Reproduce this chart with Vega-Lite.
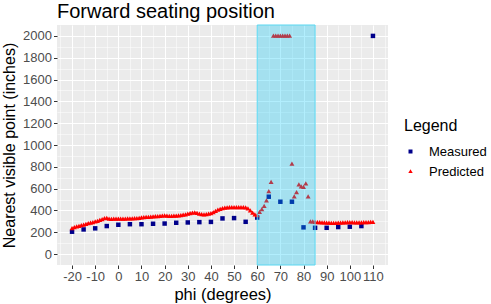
{
  "$schema": "https://vega.github.io/schema/vega-lite/v6.json",
  "width": 331,
  "height": 240,
  "autosize": "none",
  "padding": {"left": 57, "top": 25, "right": 103, "bottom": 39},
  "background": "white",
  "config": {"view": {"fill": "#EBEBEB", "stroke": null}, "font": "Liberation Sans"},
  "title": {"text": "Forward seating position", "anchor": "start", "frame": "group", "fontSize": 20, "fontWeight": "normal", "color": "black", "font": "Liberation Sans", "offset": 2.5},
  "datasets": {
    "points": [
      {"phi": -20, "value": 205, "type": "Measured"}, {"phi": -15, "value": 226, "type": "Measured"}, {"phi": -10, "value": 236, "type": "Measured"}, {"phi": -5, "value": 257, "type": "Measured"}, {"phi": 0, "value": 269, "type": "Measured"}, {"phi": 5, "value": 274, "type": "Measured"}, {"phi": 10, "value": 274, "type": "Measured"}, {"phi": 15, "value": 278, "type": "Measured"}, {"phi": 20, "value": 280, "type": "Measured"}, {"phi": 25, "value": 287, "type": "Measured"}, {"phi": 30, "value": 290, "type": "Measured"}, {"phi": 35, "value": 293, "type": "Measured"}, {"phi": 40, "value": 295, "type": "Measured"}, {"phi": 45, "value": 327, "type": "Measured"}, {"phi": 50, "value": 330, "type": "Measured"}, {"phi": 55, "value": 296, "type": "Measured"}, {"phi": 60, "value": 335, "type": "Measured"}, {"phi": 65, "value": 526, "type": "Measured"}, {"phi": 70, "value": 480, "type": "Measured"}, {"phi": 75, "value": 480, "type": "Measured"}, {"phi": 80, "value": 245, "type": "Measured"}, {"phi": 85, "value": 241, "type": "Measured"}, {"phi": 90, "value": 241, "type": "Measured"}, {"phi": 95, "value": 248, "type": "Measured"}, {"phi": 100, "value": 251, "type": "Measured"}, {"phi": 105, "value": 257, "type": "Measured"}, {"phi": 110, "value": 2000, "type": "Measured"},
      {"phi": -20, "value": 236, "type": "Predicted"}, {"phi": -19, "value": 244, "type": "Predicted"}, {"phi": -18, "value": 250, "type": "Predicted"}, {"phi": -17, "value": 256, "type": "Predicted"}, {"phi": -16, "value": 262, "type": "Predicted"}, {"phi": -15, "value": 268, "type": "Predicted"}, {"phi": -14, "value": 274, "type": "Predicted"}, {"phi": -13, "value": 280, "type": "Predicted"}, {"phi": -12, "value": 286, "type": "Predicted"}, {"phi": -11, "value": 291, "type": "Predicted"}, {"phi": -10, "value": 296, "type": "Predicted"}, {"phi": -9, "value": 302, "type": "Predicted"}, {"phi": -8, "value": 310, "type": "Predicted"}, {"phi": -7, "value": 318, "type": "Predicted"}, {"phi": -6, "value": 326, "type": "Predicted"}, {"phi": -5, "value": 328, "type": "Predicted"}, {"phi": -4, "value": 322, "type": "Predicted"}, {"phi": -3, "value": 320, "type": "Predicted"}, {"phi": -2, "value": 321, "type": "Predicted"}, {"phi": -1, "value": 322, "type": "Predicted"},
      {"phi": 0, "value": 322, "type": "Predicted"}, {"phi": 1, "value": 322, "type": "Predicted"}, {"phi": 2, "value": 323, "type": "Predicted"}, {"phi": 3, "value": 323, "type": "Predicted"}, {"phi": 4, "value": 324, "type": "Predicted"}, {"phi": 5, "value": 325, "type": "Predicted"}, {"phi": 6, "value": 325, "type": "Predicted"}, {"phi": 7, "value": 326, "type": "Predicted"}, {"phi": 8, "value": 327, "type": "Predicted"}, {"phi": 9, "value": 330, "type": "Predicted"}, {"phi": 10, "value": 333, "type": "Predicted"}, {"phi": 11, "value": 335, "type": "Predicted"}, {"phi": 12, "value": 337, "type": "Predicted"}, {"phi": 13, "value": 338, "type": "Predicted"}, {"phi": 14, "value": 340, "type": "Predicted"}, {"phi": 15, "value": 342, "type": "Predicted"}, {"phi": 16, "value": 344, "type": "Predicted"}, {"phi": 17, "value": 346, "type": "Predicted"}, {"phi": 18, "value": 348, "type": "Predicted"}, {"phi": 19, "value": 350, "type": "Predicted"},
      {"phi": 20, "value": 351, "type": "Predicted"}, {"phi": 21, "value": 350, "type": "Predicted"}, {"phi": 22, "value": 348, "type": "Predicted"}, {"phi": 23, "value": 348, "type": "Predicted"}, {"phi": 24, "value": 349, "type": "Predicted"}, {"phi": 25, "value": 350, "type": "Predicted"}, {"phi": 26, "value": 352, "type": "Predicted"}, {"phi": 27, "value": 355, "type": "Predicted"}, {"phi": 28, "value": 358, "type": "Predicted"}, {"phi": 29, "value": 362, "type": "Predicted"}, {"phi": 30, "value": 367, "type": "Predicted"}, {"phi": 31, "value": 372, "type": "Predicted"}, {"phi": 32, "value": 377, "type": "Predicted"}, {"phi": 33, "value": 379, "type": "Predicted"}, {"phi": 34, "value": 374, "type": "Predicted"}, {"phi": 35, "value": 368, "type": "Predicted"}, {"phi": 36, "value": 364, "type": "Predicted"}, {"phi": 37, "value": 362, "type": "Predicted"}, {"phi": 38, "value": 364, "type": "Predicted"}, {"phi": 39, "value": 368, "type": "Predicted"},
      {"phi": 40, "value": 373, "type": "Predicted"}, {"phi": 41, "value": 382, "type": "Predicted"}, {"phi": 42, "value": 394, "type": "Predicted"}, {"phi": 43, "value": 404, "type": "Predicted"}, {"phi": 44, "value": 412, "type": "Predicted"}, {"phi": 45, "value": 418, "type": "Predicted"}, {"phi": 46, "value": 422, "type": "Predicted"}, {"phi": 47, "value": 425, "type": "Predicted"}, {"phi": 48, "value": 427, "type": "Predicted"}, {"phi": 49, "value": 428, "type": "Predicted"}, {"phi": 50, "value": 428, "type": "Predicted"}, {"phi": 51, "value": 428, "type": "Predicted"}, {"phi": 52, "value": 427, "type": "Predicted"}, {"phi": 53, "value": 427, "type": "Predicted"}, {"phi": 54, "value": 427, "type": "Predicted"}, {"phi": 55, "value": 425, "type": "Predicted"}, {"phi": 56, "value": 415, "type": "Predicted"}, {"phi": 57, "value": 398, "type": "Predicted"}, {"phi": 58, "value": 378, "type": "Predicted"}, {"phi": 59, "value": 362, "type": "Predicted"},
      {"phi": 60, "value": 355, "type": "Predicted"}, {"phi": 61, "value": 385, "type": "Predicted"}, {"phi": 62, "value": 410, "type": "Predicted"}, {"phi": 63, "value": 440, "type": "Predicted"}, {"phi": 64, "value": 490, "type": "Predicted"}, {"phi": 65, "value": 575, "type": "Predicted"}, {"phi": 66, "value": 660, "type": "Predicted"}, {"phi": 67, "value": 2000, "type": "Predicted"}, {"phi": 68, "value": 2000, "type": "Predicted"}, {"phi": 69, "value": 2000, "type": "Predicted"}, {"phi": 70, "value": 2000, "type": "Predicted"}, {"phi": 71, "value": 2000, "type": "Predicted"}, {"phi": 72, "value": 2000, "type": "Predicted"}, {"phi": 73, "value": 2000, "type": "Predicted"}, {"phi": 74, "value": 2000, "type": "Predicted"}, {"phi": 75, "value": 826, "type": "Predicted"}, {"phi": 76, "value": 526, "type": "Predicted"}, {"phi": 77, "value": 566, "type": "Predicted"}, {"phi": 78, "value": 636, "type": "Predicted"}, {"phi": 79, "value": 618, "type": "Predicted"},
      {"phi": 80, "value": 612, "type": "Predicted"}, {"phi": 81, "value": 645, "type": "Predicted"}, {"phi": 82, "value": 526, "type": "Predicted"}, {"phi": 83, "value": 296, "type": "Predicted"}, {"phi": 84, "value": 296, "type": "Predicted"}, {"phi": 85, "value": 292, "type": "Predicted"}, {"phi": 86, "value": 290, "type": "Predicted"}, {"phi": 87, "value": 289, "type": "Predicted"}, {"phi": 88, "value": 288, "type": "Predicted"}, {"phi": 89, "value": 287, "type": "Predicted"}, {"phi": 90, "value": 286, "type": "Predicted"}, {"phi": 91, "value": 285, "type": "Predicted"}, {"phi": 92, "value": 284, "type": "Predicted"}, {"phi": 93, "value": 284, "type": "Predicted"}, {"phi": 94, "value": 284, "type": "Predicted"}, {"phi": 95, "value": 285, "type": "Predicted"}, {"phi": 96, "value": 286, "type": "Predicted"}, {"phi": 97, "value": 287, "type": "Predicted"}, {"phi": 98, "value": 288, "type": "Predicted"}, {"phi": 99, "value": 290, "type": "Predicted"},
      {"phi": 100, "value": 291, "type": "Predicted"}, {"phi": 101, "value": 290, "type": "Predicted"}, {"phi": 102, "value": 288, "type": "Predicted"}, {"phi": 103, "value": 287, "type": "Predicted"}, {"phi": 104, "value": 287, "type": "Predicted"}, {"phi": 105, "value": 288, "type": "Predicted"}, {"phi": 106, "value": 289, "type": "Predicted"}, {"phi": 107, "value": 290, "type": "Predicted"}, {"phi": 108, "value": 291, "type": "Predicted"}, {"phi": 109, "value": 292, "type": "Predicted"}, {"phi": 110, "value": 292, "type": "Predicted"}
    ],
    "band": [{"start": 60, "end": 85}]
  },
  "layer": [
    {
      "data": {"name": "points"},
      "mark": {"type": "point", "opacity": 0},
      "encoding": {
        "x": {"field": "phi", "type": "quantitative", "scale": {"domain": [-26.5, 116.5], "nice": false, "zero": false},
              "axis": {"orient": "bottom", "values": [-25, -15, -5, 5, 15, 25, 35, 45, 55, 65, 75, 85, 95, 105, 115], "grid": true, "gridColor": "white", "gridWidth": 0.5, "labels": false, "ticks": false, "domain": false, "title": null}},
        "y": {"field": "value", "type": "quantitative", "scale": {"domain": [-100, 2100], "nice": false, "zero": false},
              "axis": {"orient": "left", "values": [100, 300, 500, 700, 900, 1100, 1300, 1500, 1700, 1900], "grid": true, "gridColor": "white", "gridWidth": 0.5, "labels": false, "ticks": false, "domain": false, "title": null}}
      }
    },
    {
      "data": {"name": "points"},
      "mark": {"type": "point", "filled": true, "opacity": 1, "size": 20},
      "encoding": {
        "x": {"field": "phi", "type": "quantitative", "scale": {"domain": [-26.5, 116.5], "nice": false, "zero": false},
              "axis": {"orient": "bottom", "values": [-20, -10, 0, 10, 20, 30, 40, 50, 60, 70, 80, 90, 100, 110], "labelExpr": "'' + datum.value", "grid": true, "gridColor": "white", "gridWidth": 1.1, "domain": false, "tickColor": "#333333", "tickSize": 3.5, "tickWidth": 1, "labelFontSize": 13, "labelColor": "#4D4D4D", "labelPadding": 2, "title": "phi (degrees)", "titleFontSize": 16.5, "titleFontWeight": "normal", "titleColor": "black", "titlePadding": 3}},
        "y": {"field": "value", "type": "quantitative", "scale": {"domain": [-100, 2100], "nice": false, "zero": false},
              "axis": {"orient": "left", "values": [0, 200, 400, 600, 800, 1000, 1200, 1400, 1600, 1800, 2000], "labelExpr": "'' + datum.value", "grid": true, "gridColor": "white", "gridWidth": 1.1, "domain": false, "tickColor": "#333333", "tickSize": 3.5, "tickWidth": 1, "labelFontSize": 13, "labelColor": "#4D4D4D", "labelPadding": 2, "title": "Nearest visible point (inches)", "titleFontSize": 16, "titleFontWeight": "normal", "titleColor": "black", "titlePadding": 5}},
        "color": {"field": "type", "type": "nominal", "scale": {"domain": ["Measured", "Predicted"], "range": ["#00008B", "#FF0000"]},
                  "legend": {"title": "Legend", "orient": "none", "legendX": 347, "legendY": 93, "titleFontSize": 16, "titleFontWeight": "normal", "titleColor": "black", "titlePadding": 11, "labelFontSize": 13, "labelColor": "black", "labelOffset": 12, "rowPadding": 6, "symbolSize": 16}},
        "shape": {"field": "type", "type": "nominal", "scale": {"domain": ["Measured", "Predicted"], "range": ["square", "M-1.1,0.8L0,-1.1L1.1,0.8Z"]}}
      }
    },
    {
      "data": {"name": "band"},
      "mark": {"type": "rect", "fill": "#00C8F8", "fillOpacity": 0.3, "stroke": "#5AD7F0", "strokeWidth": 1},
      "encoding": {
        "x": {"field": "start", "type": "quantitative", "axis": null},
        "x2": {"field": "end"}
      }
    }
  ],
  "resolve": {"axis": {"x": "independent", "y": "independent"}}
}
